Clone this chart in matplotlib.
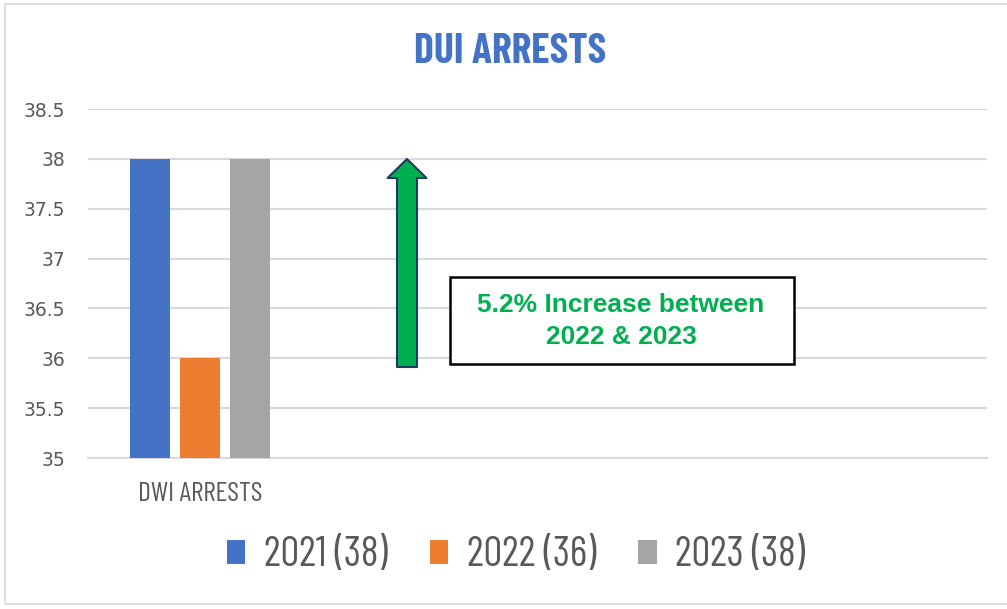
import matplotlib
matplotlib.use("Agg")
import matplotlib.pyplot as plt
from matplotlib.patches import Rectangle

# data
categories = ["DWI ARRESTS", "", "", ""]
series_names = ["2021 (38)", "2022 (36)", "2023 (38)"]
series_values = [[38], [36], [38]]
colors = ["#4472C4", "#ED7D31", "#A5A5A5"]
y_ticks = [35, 35.5, 36, 36.5, 37, 37.5, 38, 38.5]
note_text = "5.2% Increase between\n2022 & 2023"

narrow = ["Saira Extra Condensed", "Barlow Condensed", "DejaVu Sans"]
W, H = 1007, 609

fig = plt.figure(figsize=(W / 100, H / 100), dpi=100)
ax = fig.add_axes([88 / W, 1 - 458 / H, 899 / W, 349 / H])

width = 0.178
step = 0.2225
for i, (name, vals, c) in enumerate(zip(series_names, series_values, colors)):
    xs = [k + (i - 1) * step for k in range(len(vals))]
    ax.bar(xs, [v - 35 for v in vals], bottom=35, width=width, color=c, label=name, zorder=3)

ax.set_xlim(-0.5, len(categories) - 0.5)
ax.set_ylim(35, 38.5)
ax.set_yticks(y_ticks)
ax.set_yticklabels([f"{t:g}" for t in y_ticks])
ax.set_xticks(range(len(categories)))
ax.set_xticklabels(categories, family=narrow, fontsize=20, color="#595959")
ax.tick_params(axis="y", length=0, labelsize=13.5, labelcolor="#595959", pad=16.5)
ax.tick_params(axis="x", length=0, pad=17)
ax.grid(axis="y", color="#D9D9D9", linewidth=1.5, zorder=0)
for s in ["top", "right", "left"]:
    ax.spines[s].set_visible(False)
ax.spines["bottom"].set_color("#D9D9D9")
ax.spines["bottom"].set_linewidth(1.5)

fig.text(510 / W, 1 - 52 / H, "DUI ARRESTS", ha="center", va="center",
         fontsize=30, fontweight="bold", color="#4472C4", family=narrow)

# arrow
ax.annotate("", xy=(407 / W, 1 - 159 / H), xytext=(407 / W, 1 - 367 / H),
            xycoords="figure fraction", textcoords="figure fraction",
            arrowprops=dict(arrowstyle="simple,head_length=1.37,head_width=2.8,tail_width=1.44",
                            fc="#00B050", ec="#1F3864", lw=1.5, shrinkA=0, shrinkB=0,
                            mutation_scale=10))

# note box
fig.patches.append(Rectangle((450 / W, 1 - 364 / H), 344 / W, 87 / H,
                             transform=fig.transFigure, fc="white", ec="black", lw=1.8))
fig.text(621 / W, 1 - 321 / H, note_text, ha="center", va="center",
         fontsize=19, fontweight="bold", color="#00B050", family="Liberation Sans",
         linespacing=1.4)

leg = fig.legend(loc="center", bbox_to_anchor=(516 / W, 1 - 556 / H), ncol=3,
                 frameon=False, prop={"family": narrow, "size": 30},
                 handlelength=0.45, handleheight=0.5, handletextpad=0.45, columnspacing=1.0)
for t in leg.get_texts():
    t.set_color("#595959")

# outer border
fig.patches.append(Rectangle((5 / W, 1 - 604 / H), 1010 / W, 600 / H,
                             transform=fig.transFigure, fill=False, ec="#D9D9D9", lw=1.2))

fig.savefig("out.png", dpi=100)
